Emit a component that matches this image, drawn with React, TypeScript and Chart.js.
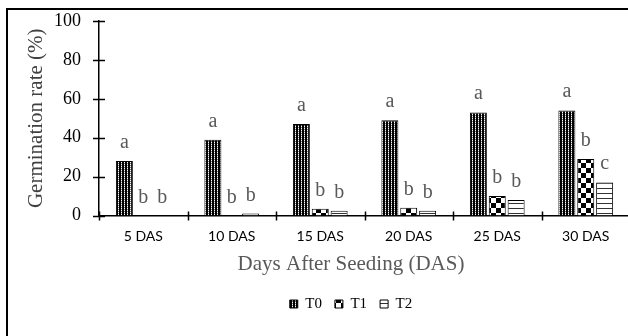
import React, { useEffect, useRef } from "react";
import { Chart, registerables } from "chart.js";

Chart.register(...registerables);

const categories = ["5 DAS", "10 DAS", "15 DAS", "20 DAS", "25 DAS", "30 DAS"];
const seriesNames = ["T0", "T1", "T2"];
const t0Values = [28, 39, 47, 49, 53, 54];
const t1Values = [0, 0, 3.5, 4, 10, 29];
const t2Values = [0, 1, 2.5, 2.5, 8, 17];
const t0Letters = ["a", "a", "a", "a", "a", "a"];
const t1Letters = ["b", "b", "b", "b", "b", "b"];
const t2Letters = ["b", "b", "b", "b", "b", "c"];
const yMin = 0;
const yMax = 100;
const yStep = 20;
const yTitle = "Germination rate (%)";
const xTitle = "Days After Seeding (DAS)";

const W = 690;
const H = 335;

function makePattern(kind: string): CanvasPattern | string {
  const c = document.createElement("canvas");
  const g = c.getContext("2d");
  if (!g) return "#444";
  if (kind === "dots") {
    c.width = 3;
    c.height = 2;
    g.fillStyle = "#000";
    g.fillRect(0, 0, 3, 2);
    g.fillStyle = "#fff";
    g.fillRect(1, 0, 1, 1);
    g.fillStyle = "#777";
    g.fillRect(1, 1, 1, 1);
  } else if (kind === "checker") {
    c.width = 10;
    c.height = 10;
    g.fillStyle = "#fff";
    g.fillRect(0, 0, 10, 10);
    g.fillStyle = "#000";
    g.fillRect(0, 0, 5, 5);
    g.fillRect(5, 5, 5, 5);
  } else {
    c.width = 4;
    c.height = 5;
    g.fillStyle = "#fff";
    g.fillRect(0, 0, 4, 5);
    g.fillStyle = "#333";
    g.fillRect(0, 0, 4, 1);
  }
  return g.createPattern(c, "repeat") || "#444";
}

const framePlugin = {
  id: "frame",
  beforeDraw(chart: any) {
    const ctx = chart.ctx;
    ctx.save();
    ctx.fillStyle = "#fff";
    ctx.fillRect(0, 0, chart.width, chart.height);
    ctx.strokeStyle = "#000";
    ctx.lineWidth = 2;
    ctx.strokeRect(1, 1, chart.width - 2, chart.height - 2);
    ctx.restore();
  },
};

const crossTicksPlugin = {
  id: "crossTicks",
  afterDraw(chart: any) {
    const ctx = chart.ctx;
    const area = chart.chartArea;
    const y = chart.scales.y;
    const x = chart.scales.x;
    ctx.save();
    ctx.strokeStyle = "#000";
    ctx.lineWidth = 1.5;
    ctx.beginPath();
    y.ticks.forEach((t: any) => {
      const py = Math.round(y.getPixelForValue(t.value)) + 0.5;
      ctx.moveTo(area.left - 6, py);
      ctx.lineTo(area.left + 6, py);
    });
    const n = x.ticks.length;
    const step = (area.right - area.left) / n;
    for (let i = 0; i <= n; i++) {
      const px = Math.round(area.left + i * step) + 0.5;
      ctx.moveTo(px, area.bottom - 4);
      ctx.lineTo(px, area.bottom + 5);
    }
    ctx.stroke();
    ctx.restore();
  },
};

const letterPlugin = {
  id: "letters",
  afterDatasetsDraw(chart: any) {
    const ctx = chart.ctx;
    const all = [t0Letters, t1Letters, t2Letters];
    ctx.save();
    ctx.font = "20px 'Liberation Serif'";
    ctx.fillStyle = "#595959";
    ctx.textAlign = "center";
    ctx.textBaseline = "alphabetic";
    chart.data.datasets.forEach((_d: any, i: number) => {
      const meta = chart.getDatasetMeta(i);
      meta.data.forEach((bar: any, j: number) => {
        ctx.fillText(all[i][j], bar.x, bar.y - 13);
      });
    });
    ctx.restore();
  },
};

export default function App() {
  const ref = useRef<HTMLCanvasElement | null>(null);

  useEffect(() => {
    if (!ref.current) return;
    const patterns = [makePattern("dots"), makePattern("checker"), makePattern("lines")];
    const values = [t0Values, t1Values, t2Values];
    const chart = new Chart(ref.current, {
      type: "bar",
      data: {
        labels: categories,
        datasets: seriesNames.map((name, i) => ({
          label: name,
          data: values[i],
          backgroundColor: patterns[i] as any,
          borderColor: "#000",
          borderWidth: 1,
          barPercentage: 0.9,
          categoryPercentage: 0.64,
        })),
      },
      options: {
        animation: false,
        responsive: false,
        devicePixelRatio: 1,
        layout: { padding: { top: 13, bottom: 21.5, left: 0, right: 0 } },
        scales: {
          x: {
            type: "category",
            offset: true,
            grid: { display: false, drawTicks: false },
            border: { display: true, color: "#000", width: 1.5 },
            ticks: {
              font: { family: "Lato", size: 14 },
              color: "#000",
              padding: 13,
              maxRotation: 0,
              autoSkip: false,
            },
            afterFit: (s: any) => {
              s.height = 34.8;
            },
          },
          y: {
            type: "linear",
            min: yMin,
            max: yMax,
            ticks: {
              stepSize: yStep,
              font: { family: "Liberation Serif", size: 18 },
              color: "#000",
              padding: 18,
            },
            grid: { display: false, drawTicks: false },
            border: { display: true, color: "#000", width: 1.5 },
            title: {
              display: true,
              text: yTitle,
              font: { family: "Liberation Serif", size: 21 },
              color: "#404040",
              padding: { top: 18, bottom: 0 },
            },
            afterFit: (s: any) => {
              s.width = 93;
              s.paddingTop = 0;
              s.paddingBottom = 0;
            },
          },
          yR: {
            type: "linear",
            position: "right",
            display: true,
            grid: { display: false, drawTicks: false },
            border: { display: false },
            ticks: { display: false },
            afterFit: (s: any) => {
              s.width = 66;
              s.paddingTop = 0;
              s.paddingBottom = 0;
            },
          },
        },
        plugins: {
          legend: {
            display: true,
            position: "bottom",
            labels: {
              boxWidth: 8,
              boxHeight: 8,
              padding: 13,
              font: { family: "Liberation Serif", size: 15 },
              color: "#000",
            },
          },
          title: {
            display: true,
            position: "bottom",
            text: xTitle,
            font: { family: "Liberation Serif", size: 21, weight: "normal" },
            color: "#595959",
            padding: { top: 2, bottom: 6 },
            weight: 500,
          } as any,
          tooltip: { enabled: false },
        },
      },
      plugins: [framePlugin, crossTicksPlugin, letterPlugin],
    });
    return () => chart.destroy();
  }, []);

  return (
    <div
      style={{
        position: "absolute",
        left: 6,
        top: 8,
        width: 622,
        height: 328,
        overflow: "hidden",
      }}
    >
      <canvas ref={ref} width={W} height={H} style={{ display: "block", width: W, height: H }} />
    </div>
  );
}
